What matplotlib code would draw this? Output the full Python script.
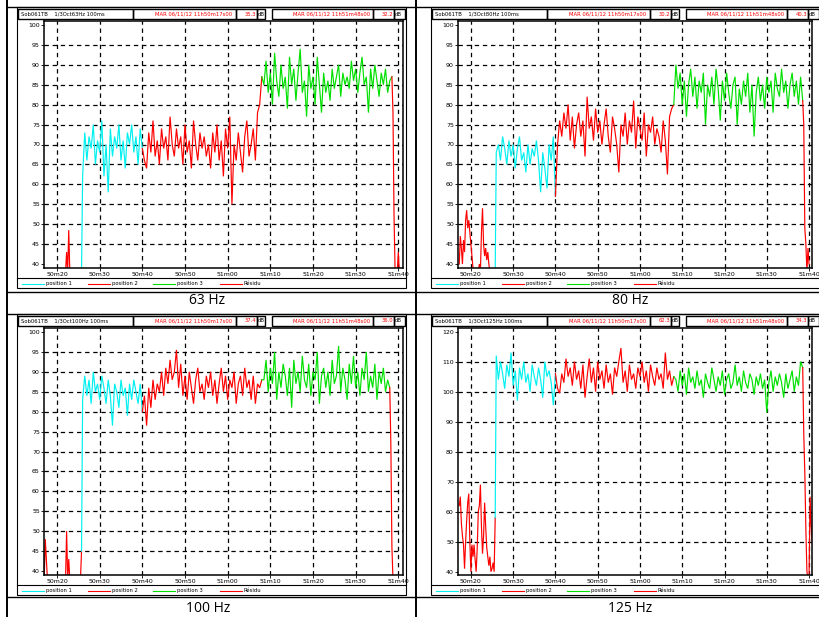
import numpy as np
import matplotlib
matplotlib.use('Agg')
import matplotlib.pyplot as plt
from matplotlib.patches import Rectangle
from matplotlib.lines import Line2D

# ---- data (dB levels, 0.5 s per sample) ----
x_ticks = [20, 30, 40, 50, 60, 70, 80, 90, 100]
x_labels = ['50m20', '50m30', '50m40', '50m50', '51m00', '51m10', '51m20', '51m30', '51m40']
legend_labels = ['position 1', 'position 2', 'position 3', 'Résidu']
captions = ['63 Hz', '80 Hz', '100 Hz', '125 Hz']
bands = ['63Hz', '80Hz', '100Hz', '125Hz']
level_a = ['35.3', '30.2', '37.4', '62.3']
level_b = ['32.2', '40.3', '36.0', '34.3']

pos1_t0, pos2_t0, pos3_t0 = 26.0, 40.5, 68.5

# 63 Hz
hz63_res_a_t0 = 22.0
hz63_res_a = [38, 43, 38, 48.5, 38, 38, 38, 38, 38, 38, 38, 38, 38, 38, 38, 38]
hz63_pos1 = [62, 73, 66, 72, 69, 75, 65, 71, 68, 76, 62, 70, 58, 74, 67, 72, 69, 75, 66,
             71, 64, 73, 70, 75, 68, 72, 65, 74, 69]
hz63_pos2 = [66, 64, 73, 68, 76, 67, 71, 65, 74, 69,
             72, 66, 77, 70, 67, 74, 69, 72, 65, 75,
             68, 71, 64, 76, 70, 66, 73, 69, 72, 67,
             70, 64, 73, 68, 75, 66, 71, 62, 74, 69,
             77, 55, 70, 66, 73, 68, 63, 72, 76, 67,
             70, 74, 66, 78, 80, 87]
hz63_pos3 = [85, 91, 83, 88, 80, 93, 86, 82, 90, 84,
             87, 79, 92, 85, 89, 81, 88, 94, 83, 86,
             77, 90, 84, 87, 80, 92, 85, 78, 88, 83,
             86, 81, 89, 84, 87, 90, 82, 88, 85, 87,
             84, 91, 86, 89, 83, 88, 92, 85, 87, 78,
             89, 84, 90, 86, 82, 88, 85, 89, 83, 86, 87]
hz63_res_b = [78, 52, 38, 38, 38, 43, 38]

# 80 Hz
hz80_res_a_t0 = 17.25
hz80_res_a = [40, 47, 44, 40, 46, 43, 51, 53.5, 49, 51, 48, 45, 42, 39, 38, 38, 38, 38,
              38, 40, 38, 48, 54, 45, 42, 44, 41, 43, 40, 38, 38, 38, 38, 38, 38]
hz80_pos1 = [68, 70, 66, 72, 69, 65, 71, 67, 70, 64, 69, 72, 66, 68, 63, 70, 65, 69, 67,
             71, 66, 58, 68, 64, 59, 70, 66, 72, 57]
hz80_pos2 = [70, 76, 72, 78, 74, 80, 71, 77, 69, 75,
             78, 72, 76, 67, 82, 74, 77, 71, 79, 73,
             76, 70, 75, 79, 72, 68, 77, 74, 70, 63,
             75, 72, 78, 70, 76, 73, 81, 69, 77, 74,
             71, 78, 67, 75, 73, 77, 70, 74, 72, 68,
             76, 71, 62.5, 77, 79, 80]
hz80_pos3 = [90, 84, 88, 80, 86, 77, 85, 89, 82, 87,
             79, 86, 83, 88, 75, 85, 82, 87, 80, 89,
             84, 76, 86, 81, 88, 83, 79, 85, 87, 75,
             84, 80, 86, 82, 88, 78, 85, 72, 83, 87,
             81, 85, 79, 87, 83, 86, 78, 88, 84, 82,
             89, 83, 86, 79, 85, 88, 82, 86, 80, 87, 81]
hz80_res_b = [75, 49, 45, 38, 44, 40]

# 100 Hz
hz100_res_a_t0 = 17.0
hz100_res_a = [38, 48, 43, 38, 38, 38, 38, 38, 38, 38, 38, 38, 38, 38, 38, 38, 38, 38,
               38, 38, 38, 50, 38, 43, 38, 38, 38, 38, 38, 38, 38, 38, 38, 38, 38, 45]
hz100_pos1 = [83, 89, 84, 88, 82, 90, 85, 87, 83, 89, 86, 82, 88, 84, 76.5, 87, 85, 81,
              88, 84, 86, 79, 87, 83, 88, 85, 82, 87, 80]
hz100_pos2 = [84, 76.5, 86, 81, 88, 83, 87, 85, 90, 84,
              91, 87, 93, 88, 90, 95.5, 86, 92, 84, 89,
              83, 90, 86, 82, 88, 91, 85, 87, 83, 89,
              86, 90, 84, 88, 82, 87, 91, 85, 89, 83,
              88, 86, 90, 82, 87, 89, 84, 91, 86, 88,
              83, 89, 82, 87, 86, 88]
hz100_pos3 = [88, 93, 85, 91, 87, 95, 83, 90, 86, 92,
              89, 84, 91, 81, 93, 87, 90, 85, 94, 88,
              86, 92, 84, 90, 88, 95, 82, 89, 91, 86,
              90, 84, 93, 87, 89, 96.5, 85, 91, 88, 83,
              92, 87, 94, 86, 90, 84, 91, 88, 95, 85,
              89, 86, 92, 83, 90, 87, 91, 85, 88, 86]
hz100_res_b = [72, 46, 38]

# 125 Hz
hz125_res_a_t0 = 17.25
hz125_res_a = [62, 65, 56, 52, 49, 41, 50, 57, 63, 66, 50, 40, 49, 45, 49, 44, 40, 48,
               60, 62, 69, 55, 46, 52, 63, 55, 48, 45, 42, 45, 40, 41, 43, 40, 58]
hz125_pos1 = [112, 104, 110, 106, 101, 109, 105, 113, 102, 107, 97, 108, 104, 110, 103,
              106, 100, 109, 105, 102, 108, 104, 98, 110, 105, 107, 103, 95.5, 106]
hz125_pos2 = [101, 99.5, 106, 103, 111, 105, 108, 102, 110, 104,
              107, 101, 109, 98, 105, 111, 103, 108, 100, 110,
              104, 107, 101, 109, 103, 106, 99, 108, 105, 110,
              114.5, 103, 107, 100, 109, 104, 106, 101, 108, 105,
              110, 103, 107, 100, 109, 105, 102, 108, 104, 106,
              101, 113, 104, 107, 102, 105]
hz125_pos3 = [104, 100, 107, 102, 106, 99, 108, 103, 105, 101,
              107, 102, 104, 98, 106, 103, 101, 108, 104, 100,
              105, 102, 107, 99, 104, 106, 101, 103, 109, 102,
              105, 100, 107, 103, 101, 106, 104, 99, 105, 102,
              106, 101, 104, 93, 103, 107, 100, 105, 102, 106,
              103, 98, 106, 101, 104, 107, 100, 105, 102, 110, 108]
hz125_res_b = [86, 73, 54, 40, 38, 38, 65, 55, 50, 48]

panels = [
    (hz63_res_a_t0, hz63_res_a, hz63_pos1, hz63_pos2, hz63_pos3, hz63_res_b),
    (hz80_res_a_t0, hz80_res_a, hz80_pos1, hz80_pos2, hz80_pos3, hz80_res_b),
    (hz100_res_a_t0, hz100_res_a, hz100_pos1, hz100_pos2, hz100_pos3, hz100_res_b),
    (hz125_res_a_t0, hz125_res_a, hz125_pos1, hz125_pos2, hz125_pos3, hz125_res_b),
]
y_ranges = [(39, 101), (39, 101), (39, 101), (38.9, 121.2)]
y_ticks = [list(range(40, 101, 5))] * 3 + [list(range(40, 121, 10))]

# ---- layout helpers (pixel coords of the 820x617 screenshot) ----
W, H = 820, 617
CYAN, RED, GREEN = '#00f0f0', '#ff0000', '#00e000'
cols = [CYAN, RED, GREEN, RED]

fig = plt.figure(figsize=(W / 100, H / 100), dpi=100)
fig.patch.set_facecolor('white')


def fx(px):
    return px / W


def fy(py):
    return 1 - py / H


def hline(x0, x1, y, lw=0.8):
    fig.add_artist(Line2D([fx(x0), fx(x1)], [fy(y), fy(y)], transform=fig.transFigure,
                          color='black', lw=lw))


def vline(x, y0, y1, lw=0.8):
    fig.add_artist(Line2D([fx(x), fx(x)], [fy(y0), fy(y1)], transform=fig.transFigure,
                          color='black', lw=lw))


def box(x0, y0, x1, y1, lw=0.8):
    fig.add_artist(Rectangle((fx(x0), fy(y1)), (x1 - x0) / W, (y1 - y0) / H,
                             transform=fig.transFigure, fill=False, ec='black', lw=lw))


def draw_panel(i, ox, oy, capx, ax_right, xmax):
    res_t0, res_a, p1, p2, p3, res_b = panels[i]
    # outer panel frame
    box(ox + 17, oy + 7, ox + 406, oy + 288)
    # header strip
    cells = [(18, 133), (133, 236), (236, 257), (257, 265), (272, 373), (373, 394), (394, 405)]
    for a, b in cells:
        box(ox + a, oy + 8.5, ox + b, oy + 19, lw=1.0)
    hy = fy(oy + 14)
    fig.text(fx(ox + 21), hy, 'Sob061TB    1/3Oct' + bands[i] + ' 100ms', fontsize=3.8,
             va='center', color='black')
    fig.text(fx(ox + 232), hy, 'MAR 06/11/12 11h50m17s00', fontsize=3.8, va='center',
             ha='right', color='red')
    fig.text(fx(ox + 256), hy, level_a[i], fontsize=3.8, va='center', ha='right', color='red')
    fig.text(fx(ox + 258), hy, 'dB', fontsize=3.8, va='center', color='black')
    fig.text(fx(ox + 370), hy, 'MAR 06/11/12 11h51m48s00', fontsize=3.8, va='center',
             ha='right', color='red')
    fig.text(fx(ox + 393), hy, level_b[i], fontsize=3.8, va='center', ha='right', color='red')
    fig.text(fx(ox + 395), hy, 'dB', fontsize=3.8, va='center', color='black')

    # legend strip
    hline(ox + 17, ox + 406, oy + 278)
    ly = oy + 283.5
    for k, (lx, lab) in enumerate(zip([22, 88, 153, 220], legend_labels)):
        fig.add_artist(Line2D([fx(ox + lx), fx(ox + lx + 22)], [fy(ly), fy(ly)],
                              transform=fig.transFigure, color=cols[k], lw=0.8))
        fig.text(fx(ox + lx + 24), fy(ly), lab, fontsize=3.8, va='center')

    # data axes
    ax = fig.add_axes([fx(ox + 44), fy(oy + 268), (ax_right - 44) / W, (268 - 21) / H])
    t_res_a = res_t0 + 0.25 * np.arange(len(res_a))
    t1 = pos1_t0 + 0.5 * np.arange(len(p1))
    t2 = pos2_t0 + 0.5 * np.arange(len(p2))
    t3 = pos3_t0 + 0.5 * np.arange(len(p3))
    t_res_b = t3[-1] + 0.25 * np.arange(1, len(res_b) + 1)
    segs = [(t_res_a, res_a, RED), (t1, p1, CYAN), (t2, p2, RED), (t3, p3, GREEN),
            (t_res_b, res_b, RED)]
    prev = None
    for t, v, c in segs:
        t = list(t)
        v = list(v)
        if prev is not None:
            t = [prev[0]] + t
            v = [prev[1]] + v
        ax.plot(t, v, color=c, lw=0.85, solid_joinstyle='miter')
        prev = (t[-1], v[-1])

    ax.set_xlim(16.95, xmax)
    ax.set_ylim(*y_ranges[i])
    ax.set_xticks(x_ticks)
    ax.set_xticklabels(x_labels)
    ax.set_yticks(y_ticks[i])
    for yt in y_ticks[i][1:-1]:
        ax.axhline(yt, color='black', lw=0.9, dashes=(3.5, 3), zorder=0)
    for xt in x_ticks:
        ax.axvline(xt, color='black', lw=0.9, dashes=(3.5, 3), zorder=0)
    ax.tick_params(labelsize=4.5, length=2, width=0.6, pad=1)
    for s in ax.spines.values():
        s.set_linewidth(1.1)

    # caption under the panel
    fig.text(fx(capx), fy(oy + 301), captions[i], fontsize=10, ha='center', va='center',
             family=['Open Sans', 'DejaVu Sans'])


# table grid of the document
vline(7, 0, 617, lw=1.4)
vline(416, 0, 617, lw=1.4)
for yy in [7, 292, 314, 597]:
    hline(7, 820, yy, lw=1.0)

draw_panel(0, 0, 0, 207, 403, 101.1)
draw_panel(1, 414, 0, 630, 398, 100.7)
draw_panel(2, 0, 307, 208, 403, 101.1)
draw_panel(3, 414, 307, 630, 398, 100.7)

fig.savefig('out.png', dpi=100)
